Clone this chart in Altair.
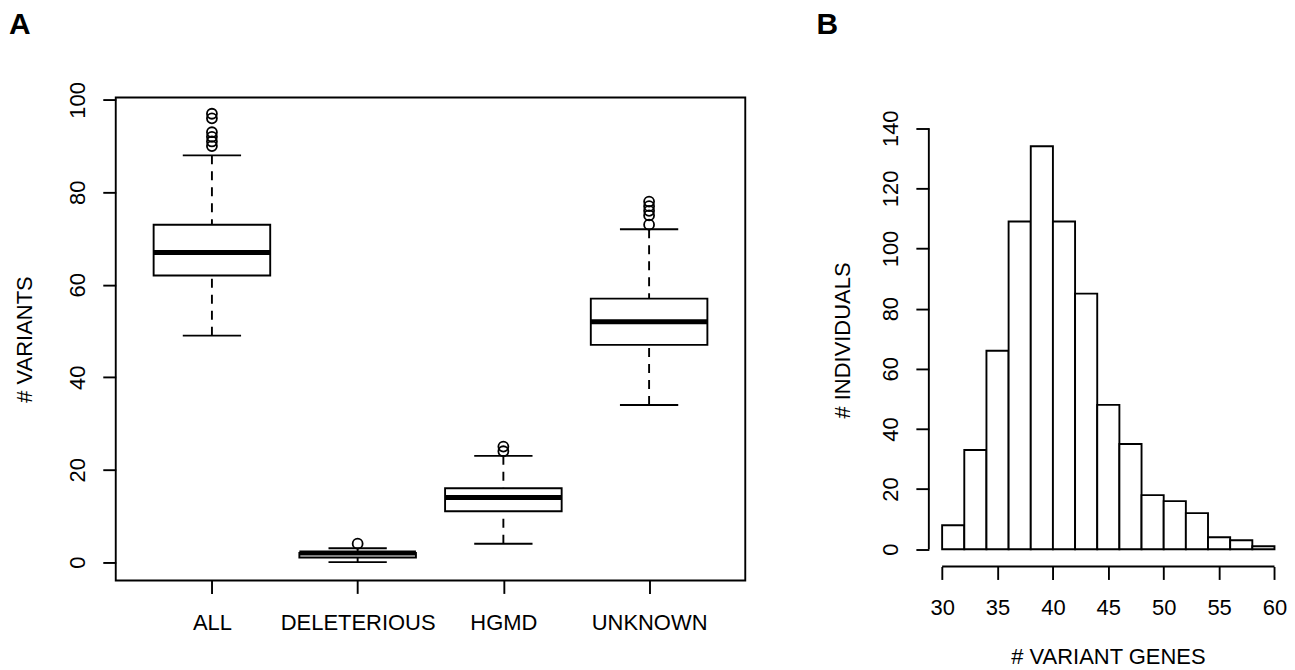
import json
import altair as alt
import pandas as pd

# ---------------- data ----------------
categories = ["ALL", "DELETERIOUS", "HGMD", "UNKNOWN"]
whisker_low = [49, 0, 4, 34]
q1 = [62, 1, 11, 47]
median = [67, 2, 14, 52]
q3 = [73, 2, 16, 57]
whisker_high = [88, 3, 23, 72]
outliers_all = [90, 91, 92, 93, 96, 97]
outliers_deleterious = [4]
outliers_hgmd = [24, 25]
outliers_unknown = [73, 75, 76, 77, 78]
variant_ticks = [0, 20, 40, 60, 80, 100]

bin_edges = [30, 32, 34, 36, 38, 40, 42, 44, 46, 48, 50, 52, 54, 56, 58, 60]
individual_counts = [8, 33, 66, 109, 134, 109, 85, 48, 35, 18, 16, 12, 4, 3, 1]
gene_ticks = [30, 35, 40, 45, 50, 55, 60]
individual_ticks = [0, 20, 40, 60, 80, 100, 120, 140]

panel_labels = ["A", "B"]

FONT = "Liberation Sans"
FS = 22
LW = 1.9

# ---------------- tables ----------------
pos = list(range(1, len(categories) + 1))
box_df = pd.DataFrame({"pos": pos, "cat": categories, "wlo": whisker_low, "q1": q1,
                       "med": median, "q3": q3, "whi": whisker_high})
whisk_df = pd.DataFrame({
    "pos": pos + pos,
    "end": whisker_low + whisker_high,
    "hinge": q1 + q3,
})
out_lists = [outliers_all, outliers_deleterious, outliers_hgmd, outliers_unknown]
out_df = pd.DataFrame([{"pos": p, "v": v} for p, lst in zip(pos, out_lists) for v in lst])

hist_df = pd.DataFrame({"start": bin_edges[:-1], "end": bin_edges[1:], "count": individual_counts})
xline_df = pd.DataFrame({"lo": [gene_ticks[0]], "hi": [gene_ticks[-1]]})
yline_df = pd.DataFrame({"lo": [individual_ticks[0]], "hi": [individual_ticks[-1]]})
one_df = pd.DataFrame({"k": [0]})

# ---------------- panel A ----------------
WA, HA = 631, 484
xA = alt.Scale(domain=[0.34, 4.66], nice=False, zero=False)
yA = alt.Scale(domain=[-3.95, 100.5], nice=False, zero=False)

axis_common = dict(grid=False, domain=False, tickColor="black", tickWidth=LW, tickSize=13,
                   labelColor="black", labelFont=FONT, labelFontSize=FS, labelOverlap=False,
                   labelBound=False, labelFlush=False, titleColor="black", titleFont=FONT,
                   titleFontSize=FS, titleFontWeight="normal")

labels_js = json.dumps(categories)
axXA = alt.Axis(values=pos, labelExpr=f"{labels_js}[datum.value-1]", title=None,
                labelBaseline="alphabetic", labelPadding=36, **axis_common)
axYA = alt.Axis(values=variant_ticks, title="# VARIANTS", labelAngle=270, labelAlign="center",
                labelBaseline="alphabetic", labelPadding=18, titleAngle=270, titleAlign="center",
                titleBaseline="alphabetic", titleX=-84, titleY=HA / 2, **axis_common)


def XA(f):
    return alt.X(f, type="quantitative", scale=xA, axis=axXA)


def YA(f):
    return alt.Y(f, type="quantitative", scale=yA, axis=axYA)


frame = alt.Chart(one_df).mark_rect(fill=None, stroke="black", strokeWidth=LW).encode(
    x=alt.value(0), x2=alt.value(WA), y=alt.value(0), y2=alt.value(HA))

whiskers = alt.Chart(whisk_df).mark_rule(color="black", strokeWidth=LW, strokeDash=[9, 7]).encode(
    x=XA("pos"), y=YA("end"), y2="hinge")

caps = alt.Chart(whisk_df).transform_calculate(
    a="datum.pos - 0.2", b="datum.pos + 0.2").mark_rule(color="black", strokeWidth=LW).encode(
    x=XA("a"), x2="b", y=YA("end"))

boxes = alt.Chart(box_df).transform_calculate(
    a="datum.pos - 0.4", b="datum.pos + 0.4").mark_rect(
    fill="white", stroke="black", strokeWidth=LW).encode(
    x=XA("a"), x2="b", y=YA("q1"), y2="q3")

medians = alt.Chart(box_df).transform_calculate(
    a="datum.pos - 0.4", b="datum.pos + 0.4").mark_rule(
    color="black", strokeWidth=5, strokeCap="butt").encode(
    x=XA("a"), x2="b", y=YA("med"))

outs = alt.Chart(out_df).mark_point(shape="circle", filled=False, color="black",
                                    size=100, strokeWidth=1.8, opacity=1).encode(
    x=XA("pos"), y=YA("v"))

labelA = alt.Chart(pd.DataFrame({"t": [panel_labels[0]]})).mark_text(
    font=FONT, fontSize=30, fontWeight="bold", align="left", baseline="alphabetic",
    color="black").encode(text="t:N", x=alt.value(-107), y=alt.value(-64))

panelA = alt.layer(whiskers, caps, boxes, medians, outs, frame, labelA).properties(
    width=WA, height=HA)

# ---------------- panel B ----------------
WB, HB = 357, 470
xB = alt.Scale(domain=[28.8, 60.95], nice=False, zero=False)
yB = alt.Scale(domain=[-5.73, 150.2], nice=False, zero=False)

axXB = alt.Axis(values=gene_ticks, title="# VARIANT GENES", labelBaseline="alphabetic",
                labelPadding=35, titleBaseline="alphabetic", titleAlign="center",
                titleX=179.5, titleY=97.7, **axis_common)
axYB = alt.Axis(values=individual_ticks, title="# INDIVIDUALS", labelAngle=270,
                labelAlign="center", labelBaseline="alphabetic", labelPadding=18.5,
                titleAngle=270, titleAlign="center", titleBaseline="alphabetic",
                titleX=-80, titleY=243, **axis_common)


def XB(f):
    return alt.X(f, type="quantitative", scale=xB, axis=axXB)


def YB(f):
    return alt.Y(f, type="quantitative", scale=yB, axis=axYB)


bars = alt.Chart(hist_df).transform_calculate(base="0").mark_rect(
    fill="white", stroke="black", strokeWidth=LW).encode(
    x=XB("start"), x2="end", y=YB("base"), y2="count")

xline = alt.Chart(xline_df).mark_rule(color="black", strokeWidth=LW).encode(
    x=XB("lo"), x2="hi", y=alt.value(HB))

yline = alt.Chart(yline_df).mark_rule(color="black", strokeWidth=LW).encode(
    y=YB("lo"), y2="hi", x=alt.value(0))

labelB = alt.Chart(pd.DataFrame({"t": [panel_labels[1]]})).mark_text(
    font=FONT, fontSize=30, fontWeight="bold", align="left", baseline="alphabetic",
    color="black").encode(text="t:N", x=alt.value(-112.7), y=alt.value(-64))

panelB = alt.layer(bars, xline, yline, labelB).properties(width=WB, height=HB)

chart = alt.hconcat(panelA, panelB, spacing=70).properties(
    padding={"left": 1, "top": 1, "right": 0, "bottom": 0},
    background="white",
).configure_view(stroke=None)

chart.save("out.html", embed_options={"renderer": "svg", "actions": False})
